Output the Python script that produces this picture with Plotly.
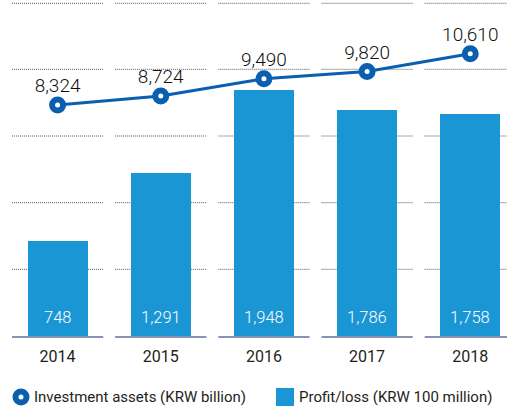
import plotly.graph_objects as go

# Data
years = ["2014", "2015", "2016", "2017", "2018"]
investment_assets = [8324, 8724, 9490, 9820, 10610]   # KRW billion
profit_loss = [748, 1291, 1948, 1786, 1758]            # KRW 100 million

BAR_COLOR = "#1b96d4"
LINE_COLOR = "#0a5fb0"
TEXT_COLOR = "#231f20"
FONT = "Roboto"

W, H = 507, 408
L, R, T, B = 6, 0, 0, 72
plot_w = W - L - R
plot_h = H - T - B


def px_to_paper(px, py):
    return (px - L) / plot_w, (H - B - py) / plot_h


def fmt(v):
    return f"{v:,}"


fig = go.Figure()

fig.add_trace(go.Bar(
    x=years, y=profit_loss, width=0.58,
    marker=dict(color=BAR_COLOR, line=dict(width=0)),
    showlegend=False, hoverinfo="skip",
))

fig.add_trace(go.Scatter(
    x=years, y=investment_assets, yaxis="y2",
    mode="lines+markers+text",
    line=dict(color=LINE_COLOR, width=3),
    marker=dict(size=11, color="white", line=dict(color=LINE_COLOR, width=6)),
    text=[fmt(v) for v in investment_assets],
    textposition="top center",
    textfont=dict(family=FONT, size=19, color="#111111", weight=300),
    showlegend=False, hoverinfo="skip",
))

shapes = []
annotations = []

# Segmented dotted gridlines and baseline under each category
half = 0.442
grid_px = [269.3, 202.7, 136.0, 69.3, 3.3]
for i in range(len(years)):
    for gy in grid_px:
        yp = (H - B - gy) / plot_h
        shapes.append(dict(type="line", xref="x", yref="paper",
                           x0=i - half, x1=i + half, y0=yp, y1=yp,
                           line=dict(color="#555555", width=1, dash="1px,1px"),
                           layer="below"))
    shapes.append(dict(type="line", xref="x", yref="paper",
                       x0=i - half, x1=i + half, y0=-0.003, y1=-0.003,
                       line=dict(color="#8792b5", width=2), layer="above"))

# Bar value labels near the base
for i, v in enumerate(profit_loss):
    annotations.append(dict(x=i, y=0, xref="x", yref="y", text=fmt(v),
                            showarrow=False, yanchor="middle", yshift=19,
                            font=dict(family=FONT, size=16.5, color="white",
                                      weight=300)))

# Legend drawn by hand
cx, cy = px_to_paper(21, 397)
shapes.append(dict(type="circle", xref="paper", yref="paper",
                   xsizemode="pixel", ysizemode="pixel",
                   xanchor=cx, yanchor=cy, x0=-5.5, x1=5.5, y0=-5.5, y1=5.5,
                   fillcolor="white", line=dict(color=LINE_COLOR, width=6)))
tx, ty = px_to_paper(32, 397)
annotations.append(dict(x=tx, y=ty, xref="paper", yref="paper",
                        text="Investment assets (KRW billion)", showarrow=False,
                        xanchor="left", yanchor="middle",
                        font=dict(family=FONT, size=15, color=TEXT_COLOR)))
sx, sy = px_to_paper(285, 397)
shapes.append(dict(type="rect", xref="paper", yref="paper",
                   xsizemode="pixel", ysizemode="pixel",
                   xanchor=sx, yanchor=sy, x0=-9, x1=9, y0=-9, y1=9,
                   fillcolor=BAR_COLOR, line=dict(width=0)))
tx2, _ = px_to_paper(297, 397)
annotations.append(dict(x=tx2, y=ty, xref="paper", yref="paper",
                        text="Profit/loss (KRW 100 million)", showarrow=False,
                        xanchor="left", yanchor="middle",
                        font=dict(family=FONT, size=15, color=TEXT_COLOR)))

fig.update_layout(
    width=W, height=H,
    margin=dict(l=L, r=R, t=T, b=B, pad=0),
    paper_bgcolor="white", plot_bgcolor="white",
    xaxis=dict(type="category", range=[-0.5, 4.356], showgrid=False,
               zeroline=False, showline=False, ticks="",
               ticklabelstandoff=9,
               tickfont=dict(family=FONT, size=16, color=TEXT_COLOR)),
    yaxis=dict(range=[0, 2656], showgrid=False, zeroline=False,
               showticklabels=False, showline=False, ticks=""),
    yaxis2=dict(range=[-1959, 13001], overlaying="y", side="right",
                showgrid=False, zeroline=False, showticklabels=False,
                showline=False, ticks=""),
    shapes=shapes, annotations=annotations,
    bargap=0,
)

fig.write_html("out.html")
